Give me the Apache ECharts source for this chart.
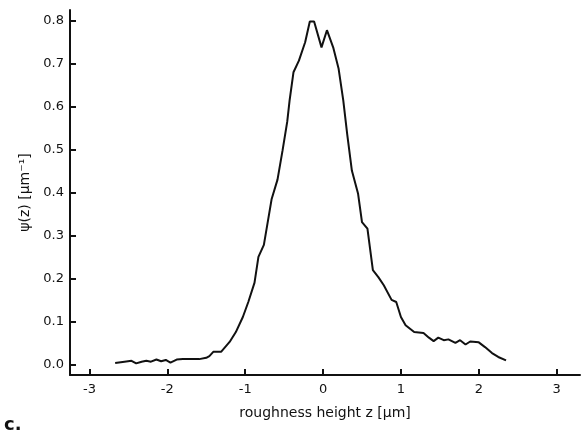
<!DOCTYPE html>
<html>
<head>
<meta charset="utf-8">
<script src="https://cdn.jsdelivr.net/npm/echarts@6/dist/echarts.min.js"></script>
<style>
  html, body { margin: 0; padding: 0; background: #fff; }
  #chart { width: 587px; height: 439px; }
</style>
</head>
<body>
<div id="chart"></div>
<script>
// roughness height z [um]
var zValues = [-2.67, -2.55, -2.46, -2.40, -2.33, -2.27, -2.21, -2.14, -2.08, -2.02,
  -1.96, -1.88, -1.80, -1.70, -1.59, -1.50, -1.46, -1.41, -1.31, -1.20,
  -1.12, -1.03, -0.96, -0.88, -0.83, -0.76, -0.66, -0.585, -0.52, -0.46,
  -0.43, -0.38, -0.31, -0.23, -0.17, -0.115, -0.02, 0.05, 0.13, 0.20,
  0.26, 0.31, 0.37, 0.45, 0.50, 0.57, 0.64, 0.71, 0.78, 0.88,
  0.94, 1.00, 1.06, 1.17, 1.29, 1.36, 1.42, 1.48, 1.55, 1.61,
  1.70, 1.76, 1.83, 1.89, 2.00, 2.08, 2.17, 2.25, 2.35];
// psi(z) [um^-1]
var psiValues = [0.003, 0.006, 0.008, 0.002, 0.006, 0.008, 0.006, 0.011, 0.007, 0.010,
  0.004, 0.011, 0.012, 0.012, 0.012, 0.015, 0.019, 0.029, 0.029, 0.052,
  0.075, 0.110, 0.145, 0.190, 0.250, 0.278, 0.385, 0.430, 0.498, 0.565,
  0.614, 0.680, 0.707, 0.750, 0.798, 0.798, 0.738, 0.778, 0.738, 0.688,
  0.614, 0.536, 0.451, 0.397, 0.331, 0.316, 0.219, 0.203, 0.184, 0.150,
  0.145, 0.110, 0.091, 0.075, 0.073, 0.062, 0.054, 0.062, 0.056, 0.058,
  0.050, 0.056, 0.046, 0.053, 0.051, 0.040, 0.026, 0.017, 0.009];
var xTicks = [-3, -2, -1, 0, 1, 2, 3];
var yTicks = [0, 0.1, 0.2, 0.3, 0.4, 0.5, 0.6, 0.7, 0.8];

var chart = echarts.init(document.getElementById("chart"), null, { renderer: "canvas" });

var fontFam = "DejaVu Sans, sans-serif";
var lineData = zValues.map(function (z, i) {
  return [z, psiValues[i]];
});

var option = {
  animation: false,
  backgroundColor: "#fff",
  grid: {
    left: 70,
    right: 7,
    top: 10,
    bottom: 64
  },
  xAxis: {
    type: "value",
    min: -3.25,
    max: 3.3,
    name: "roughness height z [μm]",
    nameLocation: "middle",
    nameGap: 31,
    nameTextStyle: { color: "#111", fontSize: 14, fontFamily: fontFam },
    axisLine: { show: true, onZero: false, lineStyle: { color: "#111", width: 2 } },
    axisTick: {
      show: true,
      inside: true,
      length: 6,
      customValues: xTicks,
      lineStyle: { color: "#111", width: 2 }
    },
    axisLabel: {
      customValues: xTicks,
      color: "#111",
      fontSize: 13,
      fontFamily: fontFam,
      margin: 8,
      formatter: function (v) { return String(v); }
    },
    splitLine: { show: false }
  },
  yAxis: {
    type: "value",
    min: -0.025,
    max: 0.825,
    name: "ψ(z) [μm⁻¹]",
    nameLocation: "middle",
    nameGap: 33,
    nameRotate: 90,
    nameTextStyle: { color: "#111", fontSize: 14, fontFamily: fontFam },
    axisLine: { show: true, onZero: false, lineStyle: { color: "#111", width: 2 } },
    axisTick: {
      show: true,
      inside: true,
      length: 6,
      customValues: yTicks,
      lineStyle: { color: "#111", width: 2 }
    },
    axisLabel: {
      customValues: yTicks,
      color: "#111",
      fontSize: 13,
      fontFamily: fontFam,
      margin: 6,
      formatter: function (v) { return v.toFixed(1); }
    },
    splitLine: { show: false }
  },
  graphic: [
    {
      type: "text",
      left: 4,
      top: 416,
      style: {
        text: "c.",
        fill: "#111",
        font: "bold 18px DejaVu Sans, sans-serif"
      }
    }
  ],
  series: [
    {
      type: "line",
      data: lineData,
      symbol: "none",
      smooth: false,
      lineStyle: { color: "#111", width: 2 }
    }
  ]
};

chart.setOption(option);
</script>
</body>
</html>
